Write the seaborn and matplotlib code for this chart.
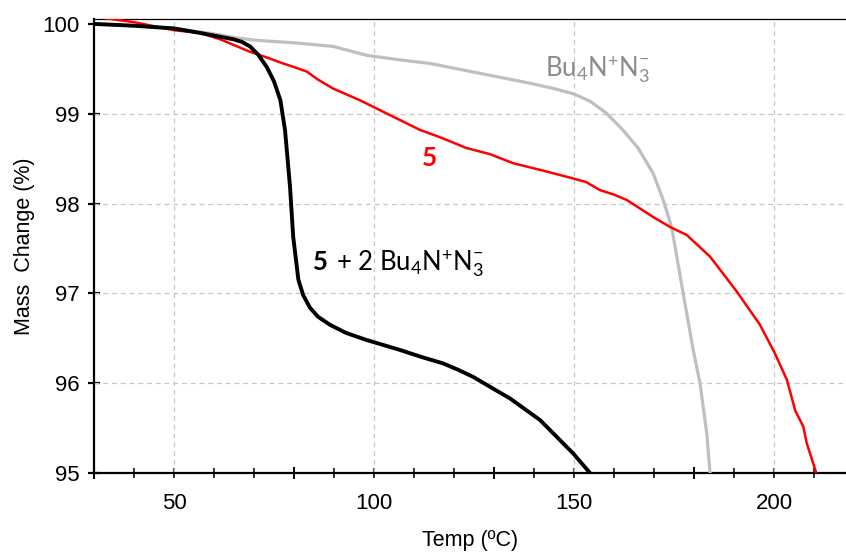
import matplotlib
matplotlib.use("Agg")
import matplotlib.pyplot as plt
import seaborn as sns
import pandas as pd
from matplotlib.ticker import FixedLocator, NullFormatter

# ---- data ----
temp_salt = [30, 40, 50, 60, 65, 70, 73.2, 80, 89.8, 98.2, 106.5, 114, 126.5, 139, 145, 150,
             154, 158, 162, 166, 169.75, 172.3, 174.4, 177.3, 179.8, 181.5, 183.2, 184]
mass_salt = [100.0, 99.98, 99.95, 99.89, 99.85, 99.82, 99.81, 99.79, 99.75, 99.65, 99.6, 99.56, 99.45, 99.34, 99.28, 99.22,
             99.14, 99.01, 98.83, 98.62, 98.34, 98.04, 97.74, 97.0, 96.37, 96.0, 95.44, 95.0]

temp_5 = [30, 35, 40, 50, 56.5, 61.5, 69, 73, 77.3, 80, 83.2, 86, 89.8, 96.5, 106.5, 111.5, 117, 123, 129, 134.75, 142, 149.75,
          153, 156.5, 160, 163.2, 169.8, 174, 178.2, 184, 190.7, 196.5, 200.25, 203.2, 204.8, 205.25, 207.3, 208.2, 210.5]
mass_5 = [100.08, 100.05, 100.02, 99.93, 99.9, 99.83, 99.69, 99.63, 99.56, 99.52, 99.47, 99.38, 99.28, 99.15, 98.93, 98.82, 98.73, 98.62, 98.55, 98.45, 98.37, 98.28,
          98.24, 98.15, 98.10, 98.04, 97.85, 97.74, 97.65, 97.41, 97.02, 96.65, 96.33, 96.04, 95.78, 95.70, 95.52, 95.33, 95.01]

temp_mix = [30, 40, 50, 56.5, 60, 64.8, 67, 69, 71, 73.2, 75, 76.6, 77.75, 79, 79.8, 81.1, 82.3, 84, 86, 89, 93, 98.2,
            106.5, 112, 117.3, 121, 124.8, 129, 134, 141.5, 149.75, 154]
mass_mix = [100.0, 99.98, 99.95, 99.9, 99.87, 99.83, 99.8, 99.75, 99.66, 99.52, 99.36, 99.15, 98.82, 98.19, 97.63, 97.15, 96.98, 96.84, 96.74, 96.65, 96.56, 96.48,
            96.37, 96.29, 96.22, 96.15, 96.07, 95.96, 95.83, 95.59, 95.22, 95.0]

x_ticks = [50, 100, 150, 200]
y_ticks = [95, 96, 97, 98, 99, 100]

# ---- style ----
sns.set_theme(style="white")
plt.rcParams['font.family'] = ['Liberation Sans', 'DejaVu Sans']
plt.rcParams['mathtext.fontset'] = 'custom'
plt.rcParams['mathtext.rm'] = 'Lato'
plt.rcParams['mathtext.it'] = 'Lato:italic'
plt.rcParams['mathtext.bf'] = 'Lato:bold'
for k in ['text.color', 'axes.labelcolor', 'xtick.color', 'ytick.color']:
    plt.rcParams[k] = 'black'

fig = plt.figure(figsize=(8.46, 5.54), dpi=100)
ax = fig.add_axes([94/846, 1 - 473/554, 1 - 94/846, (473 - 19)/554])

df_salt = pd.DataFrame({"T": temp_salt, "M": mass_salt})
df_5 = pd.DataFrame({"T": temp_5, "M": mass_5})
df_mix = pd.DataFrame({"T": temp_mix, "M": mass_mix})

sns.lineplot(data=df_salt, x="T", y="M", ax=ax, color="#bfbfbf", lw=2.3, sort=False, zorder=3)
sns.lineplot(data=df_5, x="T", y="M", ax=ax, color="#ff0000", lw=1.8, sort=False, zorder=4)
sns.lineplot(data=df_mix, x="T", y="M", ax=ax, color="#000000", lw=2.8, sort=False, zorder=5)

ax.set_xlim(30, 218)
ax.set_ylim(95, 100.055)

# grid
for v in x_ticks:
    ax.axvline(v, color="#c8c8c8", lw=0.9, ls=(0, (4, 3)), zorder=1)
for v in y_ticks[1:-1]:
    ax.axhline(v, color="#c8c8c8", lw=0.9, ls=(0, (4, 3)), zorder=1)

# x ticks: labelled every 50, small ticks every 10, longer ticks at 30/80/130/180
small = [t for t in range(40, 220, 10) if t not in (80, 130, 180)]
ax.xaxis.set_major_locator(FixedLocator(small))
ax.set_xticklabels(["" for _ in small])
ax.xaxis.set_minor_locator(FixedLocator([30, 80, 130, 180]))
ax.xaxis.set_minor_formatter(NullFormatter())
ax.tick_params(axis="x", which="major", direction="inout", length=6.5, width=1.1, color="black", bottom=True)
ax.tick_params(axis="x", which="minor", direction="inout", length=9, width=1.4, color="black", bottom=True)
for v in x_ticks:
    ax.text(v, -0.045, str(v), transform=ax.get_xaxis_transform(), ha="center", va="top", fontsize=16)

ax.set_yticks(y_ticks)
ax.set_yticklabels([str(v) for v in y_ticks], fontsize=16)
ax.tick_params(axis="y", which="major", direction="inout", length=9, width=1.6, color="black", left=True, pad=6)

for s in ["left", "bottom"]:
    ax.spines[s].set_color("black")
    ax.spines[s].set_linewidth(1.6)
ax.spines["top"].set_color("black")
ax.spines["top"].set_linewidth(0.9)
ax.spines["right"].set_visible(False)

ax.set_xlabel("Temp (ºC)", fontsize=15.5, labelpad=33)
ax.set_ylabel("Mass  Change (%)", fontsize=15.5, labelpad=5)

# annotations
lato = ["Lato", "DejaVu Sans"]
ax.text(142.75, 99.413, r"Bu$_4$N$^{+}$N$_3^{-}$", color="#8c8c8c", fontsize=18.5,
        ha="left", va="baseline", family=lato)
ax.text(114, 98.51, "5", color="#ff0000", fontsize=19, fontweight="bold", ha="center", va="center",
        family=lato)
ax.text(84.75, 97.26, "5", color="black", fontsize=18.5, fontweight="bold",
        ha="left", va="baseline", family=lato)
ax.text(90.4, 97.26, r"+ 2 Bu$_4$N$^{+}$N$_3^{-}$", color="black", fontsize=18.5,
        ha="left", va="baseline", family=lato)

fig.savefig("out.png", dpi=100)
